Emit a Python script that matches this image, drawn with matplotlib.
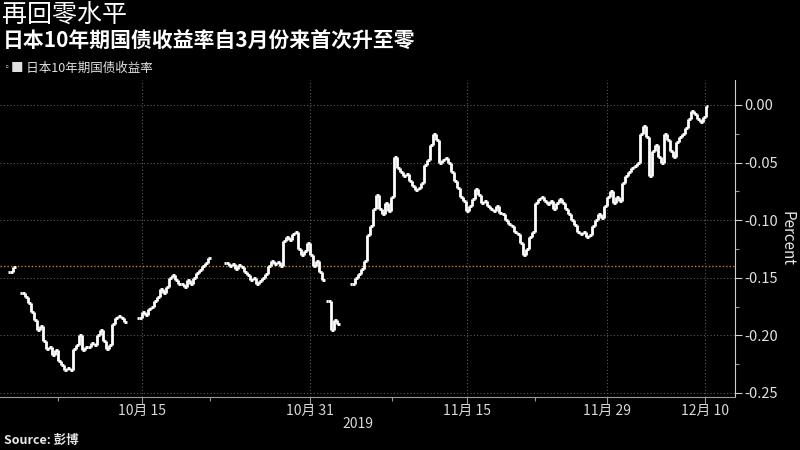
import numpy as np
import matplotlib
matplotlib.use("Agg")
import matplotlib.pyplot as plt
from matplotlib.ticker import FixedLocator, FuncFormatter

# ==========================================
# DATA  (JGB 10y yield, percent, one value per sample, nan = no trading)
# ==========================================

nan = np.nan

yield_oct_early = [
    -0.145, -0.141, nan, nan, -0.163, -0.167, -0.172, -0.180, -0.187, -0.195,
    -0.192, -0.205, -0.212, -0.210, -0.217, -0.213, -0.222, -0.226, -0.230, -0.228,
    -0.230, -0.212, -0.208, -0.200, -0.213, -0.210, -0.210, -0.207, -0.208, -0.200,
    -0.195, -0.205, -0.212, -0.208, -0.190, -0.185, -0.183, -0.185, -0.188, nan,
    nan, nan, nan,
]

yield_oct_late = [
    -0.185, -0.180, -0.182, -0.177, -0.175, -0.170, -0.167, -0.160, -0.163, -0.158,
    -0.150, -0.148, -0.152, -0.155, -0.155, -0.158, -0.152, -0.155, -0.150, -0.146,
    -0.143, -0.140, -0.137, -0.133, nan, nan, nan, nan, nan, -0.137,
    -0.140, -0.138, -0.142, -0.139, -0.141, -0.145, -0.148, -0.152, -0.150, -0.155,
    -0.153, -0.150, -0.147, -0.140, -0.135, -0.138, -0.136, -0.140, -0.118, -0.115,
    -0.117, -0.112, -0.110, -0.125, -0.130, -0.127, -0.120, -0.130, -0.140, -0.135,
    -0.145, -0.152, nan, -0.170, -0.195, -0.187, -0.190, nan, nan, nan,
    nan,
]

yield_nov = [
    -0.155, -0.150, -0.147, -0.142, -0.135, -0.113, -0.105, -0.090, -0.078, -0.090,
    -0.095, -0.085, -0.092, -0.080, -0.045, -0.055, -0.058, -0.062, -0.060, -0.066,
    -0.070, -0.074, -0.072, -0.068, -0.052, -0.048, -0.035, -0.025, -0.030, -0.050,
    -0.048, -0.046, -0.050, -0.058, -0.066, -0.072, -0.080, -0.083, -0.092, -0.088,
    -0.082, -0.073, -0.078, -0.085, -0.083, -0.088, -0.090, -0.092, -0.088, -0.094,
    -0.095, -0.100, -0.103, -0.105, -0.110, -0.112, -0.120, -0.130, -0.125, -0.115,
    -0.110, -0.085, -0.082, -0.080, -0.083, -0.086, -0.083, -0.090, -0.085, -0.082,
    -0.085, -0.090, -0.095, -0.100, -0.104, -0.110, -0.112, -0.110, -0.115, -0.113,
    -0.105, -0.100, -0.095, -0.098, -0.088,
]

yield_dec = [
    -0.080, -0.075, -0.085, -0.080, -0.083, -0.068, -0.062, -0.058, -0.055, -0.053,
    -0.050, -0.025, -0.018, -0.028, -0.062, -0.040, -0.035, -0.045, -0.050, -0.025,
    -0.030, -0.040, -0.045, -0.032, -0.028, -0.025, -0.020, -0.012, -0.005, -0.008,
    -0.012, -0.015, -0.010, -0.001,
]

# tick positions are sample indexes
date_ticks = [44, 100, 152.3, 199, 231.7]
date_labels = ["10月 15", "10月 31", "11月 15", "11月 29", "12月 10"]
minor_date_ticks = [16, 66.7, 127.3, 175]

y_ticks = [0.00, -0.05, -0.10, -0.15, -0.20, -0.25]
ref_level = -0.14

# ==========================================
# PREP
# ==========================================

close = np.array(yield_oct_early + yield_oct_late + yield_nov + yield_dec)
x = np.arange(len(close))
openp = np.concatenate([[nan], close[:-1]])
openp = np.where(np.isnan(openp), close, openp)
lo = np.minimum(openp, close)
hi = np.maximum(openp, close)

# ==========================================
# FIGURE
# ==========================================

plt.rcParams['font.family'] = ['Noto Sans CJK SC', 'DejaVu Sans']

fig = plt.figure(figsize=(8, 4.5), dpi=100, facecolor="black")
ax = fig.add_axes([0.0, 1 - 397 / 450, 735 / 800, (397 - 80) / 450])
ax.set_facecolor("black")

ax.axhline(ref_level, color="#c9812f", lw=1.0, ls=(0, (1, 1.5)), zorder=1)

ax.vlines(x, lo, hi, color="white", lw=2.0, zorder=3)
ax.hlines(openp, x - 0.6, x, color="white", lw=2.0, zorder=3)
ax.hlines(close, x, x + 0.6, color="white", lw=2.0, zorder=3)

ax.set_xlim(-3.33, 241.67)
ax.set_ylim(-0.2535, 0.0217)

# ==========================================
# AXES
# ==========================================

ax.xaxis.set_major_locator(FixedLocator(date_ticks))
ax.set_xticklabels(date_labels)
ax.xaxis.set_minor_locator(FixedLocator(minor_date_ticks))

ax.yaxis.tick_right()
ax.yaxis.set_label_position("right")
ax.set_yticks(y_ticks)
ax.yaxis.set_major_formatter(FuncFormatter(lambda v, p: f"{v:.2f}"))
ax.yaxis.set_minor_locator(FixedLocator([-0.025, -0.075, -0.125, -0.175, -0.225]))

ax.tick_params(axis="x", which="major", colors="#9a9a9a", labelcolor="#d8d8d8",
               length=5, width=0.8, labelsize=10, pad=0)
ax.tick_params(axis="x", which="minor", colors="#9a9a9a", length=3, width=0.8)
ax.tick_params(axis="y", which="major", colors="#cfcfcf", labelcolor="#e0e0e0",
               length=5, width=0.8, labelsize=10.5, pad=2)
ax.tick_params(axis="y", which="minor", colors="#9a9a9a", length=3, width=0.8)

ax.set_ylabel("Percent", rotation=270, color="#e6e6e6", fontsize=11, labelpad=12)

for side in ["left", "top"]:
    ax.spines[side].set_visible(False)
ax.spines["right"].set_color("#cfcfcf")
ax.spines["bottom"].set_color("#9a9a9a")

ax.grid(True, which="major", color="#5a5a5a", lw=0.8, ls=(0, (1, 2)))

# ==========================================
# TEXT
# ==========================================

fig.text(0.003, 1 - 16 / 450, "再回零水平", color="white", fontsize=18, va="center")
fig.text(0.003, 1 - 41 / 450, "日本10年期国债收益率自3月份来首次升至零", color="white",
         fontsize=15, fontweight="bold", va="center")
fig.text(0.004, 1 - 68 / 450, "▫", color="#aaaaaa", fontsize=6, va="center")
fig.text(0.014, 1 - 68 / 450, "■ 日本10年期国债收益率", color="#e0e0e0", fontsize=9, va="center")
fig.text(358 / 800, 1 - 424 / 450, "2019", color="#d8d8d8", fontsize=10, ha="center", va="center")
fig.text(0.005, 1 - 440 / 450, "Source: 彭博", color="#e6e6e6", fontsize=9,
         fontweight="bold", va="center")

fig.savefig("out.png", dpi=100, facecolor="black")
